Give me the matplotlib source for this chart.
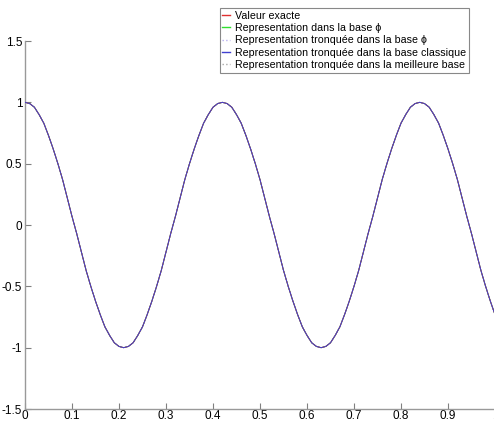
import matplotlib.pyplot as plt
import numpy as np

plt.rcParams['font.family'] = ['Liberation Sans', 'DejaVu Sans']

x = [i / 100 for i in range(101)]
one_period = [1.00, 0.99, 0.96, 0.90, 0.83, 0.73, 0.62, 0.50, 0.37, 0.22, 0.07,
              -0.07, -0.22, -0.37, -0.50, -0.62, -0.73, -0.83, -0.90, -0.96, -0.99,
              -1.00, -0.99, -0.96, -0.90, -0.83, -0.73, -0.62, -0.50, -0.37, -0.22,
              -0.07, 0.07, 0.22, 0.37, 0.50, 0.62, 0.73, 0.83, 0.90, 0.96, 0.99]
y_exact = one_period + one_period + [1.00, 0.99, 0.96, 0.90, 0.83, 0.73, 0.62, 0.50,
                                     0.37, 0.22, 0.07, -0.07, -0.22, -0.37, -0.50,
                                     -0.62, -0.73]

labels = ['Valeur exacte',
          'Representation dans la base ϕ',
          'Representation tronquée dans la base ϕ',
          'Representation tronquée dans la base classique',
          'Representation tronquée dans la meilleure base']
colors = ['#e03030', '#30e030', '#b8b0f0', '#4040d0', '#a8a8a8']
styles = ['-', '-', ':', '-', ':']
zorders = [3, 2, 1, 4, 1]

xticks = [0, 0.1, 0.2, 0.3, 0.4, 0.5, 0.6, 0.7, 0.8, 0.9, 1]
yticks = [-1.5, -1, -0.5, 0, 0.5, 1, 1.5]

fig = plt.figure(figsize=(4.94, 4.24), dpi=100)
ax = fig.add_axes([25 / 494, 15 / 424, 470 / 494, 368 / 424])

for lab, c, ls, z in zip(labels, colors, styles, zorders):
    ax.plot(x, y_exact, color=c, linestyle=ls, linewidth=0.7, label=lab, zorder=z)

ax.set_xlim(0, 1)
ax.set_ylim(-1.5, 1.5)
ax.set_xticks(xticks)
ax.set_xticklabels(['0', '0.1', '0.2', '0.3', '0.4', '0.5', '0.6', '0.7', '0.8', '0.9', '1'])
ax.set_yticks(yticks)
ax.set_yticklabels(['-1.5', '-1', '-0.5', '0', '0.5', '1', '1.5'])
ax.tick_params(direction='in', length=4, width=0.8, color='#808080', labelsize=8.5)
ax.tick_params(axis='x', pad=1)
ax.tick_params(axis='y', pad=2)

for s in ['top', 'right']:
    ax.spines[s].set_visible(False)
for s in ['left', 'bottom']:
    ax.spines[s].set_color('#999999')
    ax.spines[s].set_linewidth(1.0)

leg = ax.legend(loc='upper right', bbox_to_anchor=(469 / 494, 1 - 8 / 424),
                bbox_transform=fig.transFigure, fontsize=7.7, handlelength=0.7,
                handletextpad=0.5, labelspacing=0.22, borderpad=0.25,
                borderaxespad=0, fancybox=False, framealpha=1)
leg.get_frame().set_edgecolor('#888888')
leg.get_frame().set_linewidth(0.8)
for h in leg.get_lines():
    h.set_linewidth(1.0)

fig.savefig('out.png', dpi=100)
